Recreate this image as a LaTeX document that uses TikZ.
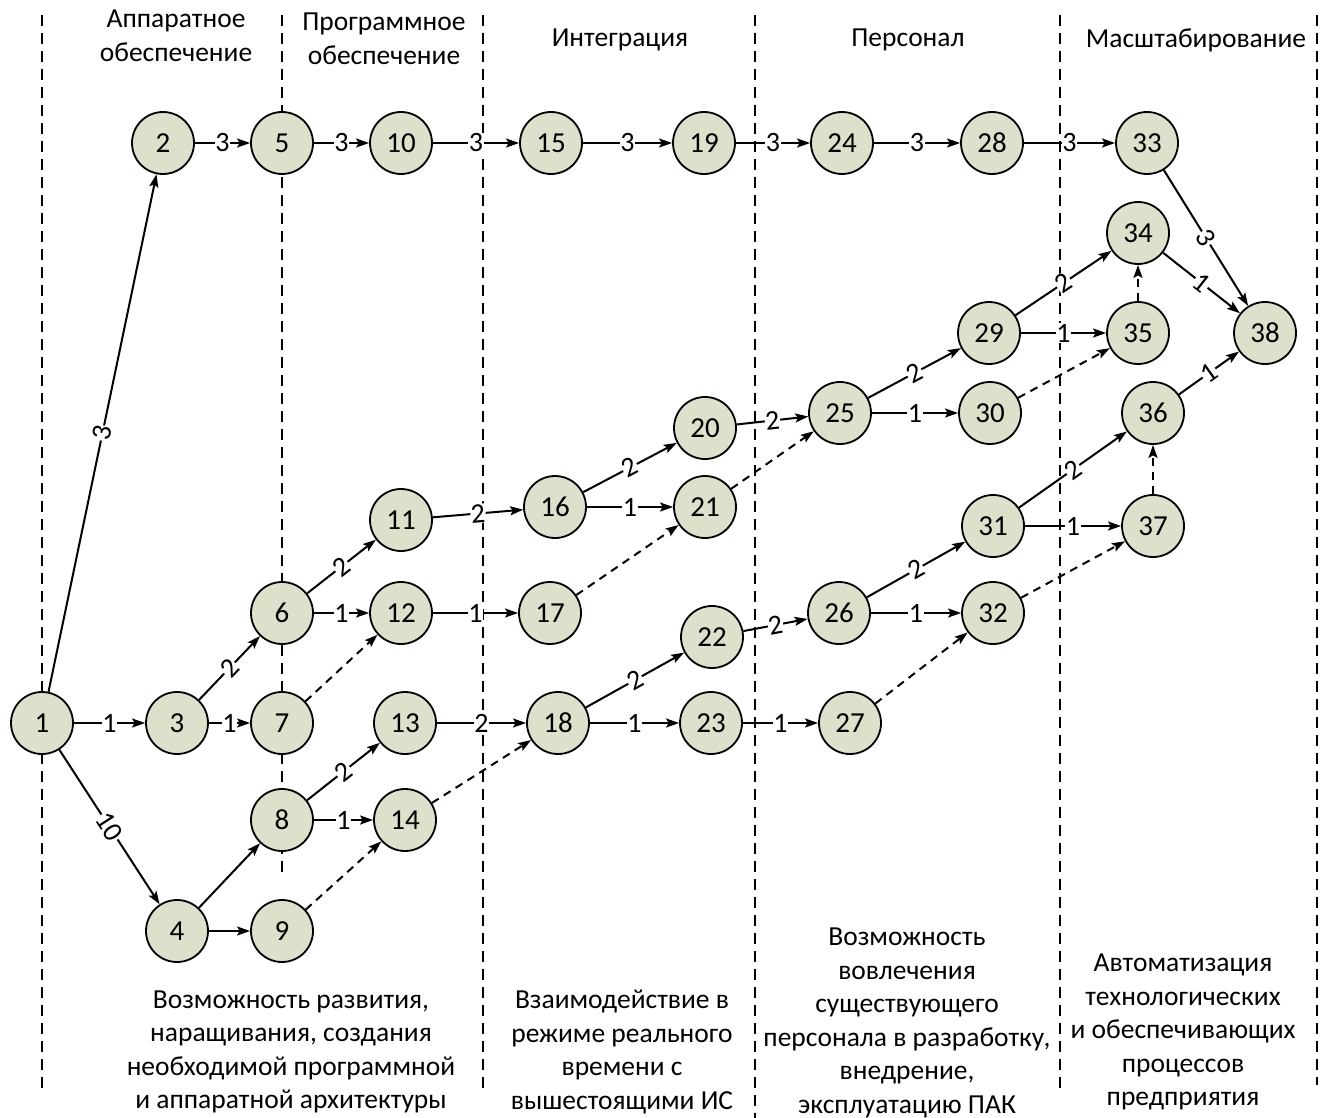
\documentclass[tikz,border=0pt]{standalone}
\usepackage{fontspec}
\setmainfont{Carlito}
\usetikzlibrary{arrows.meta}
\definecolor{nodefill}{RGB}{221,224,203}
\begin{document}
\begin{tikzpicture}[x=1pt,y=-1pt,
  ev/.style={circle,draw,line width=1.8pt,fill=nodefill,minimum size=62pt,inner sep=0pt,font=\fontsize{29}{29}\selectfont},
  act/.style={line width=2pt,-{Stealth[length=13pt,width=9pt,inset=2.5pt]}},
  dummy/.style={act,dash pattern=on 8pt off 6pt},
  w/.style={fill=white,inner sep=0.5pt,font=\fontsize{28}{28}\selectfont,sloped},
  sep/.style={line width=1.3pt,dash pattern=on 11pt off 7pt},
  txt/.style={align=center,font=\fontsize{27.5}{33.5}\selectfont}
]
\useasboundingbox[fill=white] (0,0) rectangle (1330,1118);

% stage separators
\draw[sep] (42,15) -- (42,1090);
\draw[sep] (282,15) -- (282,872);
\draw[sep] (483,15) -- (483,1095);
\draw[sep] (755,15) -- (755,1118);
\draw[sep] (1060,15) -- (1060,1090);
\draw[sep] (1317,15) -- (1317,1085);

% stage titles
\node[txt] (h1) at (176,36) {Аппаратное\\обеспечение};
\node[txt] (h2) at (384,39) {Программное\\обеспечение};
\node[txt] (h3) at (620,40) {Интеграция};
\node[txt] (h4) at (908,40) {Персонал};
\node[txt] (h5) at (1196,40) {Масштабирование};

% events
\node[ev] (n1) at (42,723) {1};
\node[ev] (n2) at (163,143) {2};
\node[ev] (n3) at (177,723) {3};
\node[ev] (n4) at (177,931) {4};
\node[ev] (n5) at (282,143) {5};
\node[ev] (n6) at (282,613) {6};
\node[ev] (n7) at (282,723) {7};
\node[ev] (n8) at (282,820) {8};
\node[ev] (n9) at (282,931) {9};
\node[ev] (n10) at (401,143) {10};
\node[ev] (n11) at (401,520) {11};
\node[ev] (n12) at (401,613) {12};
\node[ev] (n13) at (405,723) {13};
\node[ev] (n14) at (405,820) {14};
\node[ev] (n15) at (551,143) {15};
\node[ev] (n16) at (555,507) {16};
\node[ev] (n17) at (550,613) {17};
\node[ev] (n18) at (558,723) {18};
\node[ev] (n19) at (704,143) {19};
\node[ev] (n20) at (705,428) {20};
\node[ev] (n21) at (705,507) {21};
\node[ev] (n22) at (712,637) {22};
\node[ev] (n23) at (711,723) {23};
\node[ev] (n24) at (842,143) {24};
\node[ev] (n25) at (840,413) {25};
\node[ev] (n26) at (839,613) {26};
\node[ev] (n27) at (850,723) {27};
\node[ev] (n28) at (992,143) {28};
\node[ev] (n29) at (989,333) {29};
\node[ev] (n30) at (990,413) {30};
\node[ev] (n31) at (993,526) {31};
\node[ev] (n32) at (993,613) {32};
\node[ev] (n33) at (1147,143) {33};
\node[ev] (n34) at (1138,233) {34};
\node[ev] (n35) at (1138,333) {35};
\node[ev] (n36) at (1153,413) {36};
\node[ev] (n37) at (1153,526) {37};
\node[ev] (n38) at (1265,333) {38};

% works
\draw[act] (n1) -- node[w]{3} (n2);
\draw[act] (n1) -- node[w]{1} (n3);
\draw[act] (n1) -- node[w]{10} (n4);
\draw[act] (n2) -- node[w]{3} (n5);
\draw[act] (n5) -- node[w]{3} (n10);
\draw[act] (n10) -- node[w]{3} (n15);
\draw[act] (n15) -- node[w]{3} (n19);
\draw[act] (n19) -- node[w]{3} (n24);
\draw[act] (n24) -- node[w]{3} (n28);
\draw[act] (n28) -- node[w]{3} (n33);
\draw[act] (n33) -- node[w]{3} (n38);
\draw[act] (n3) -- node[w]{2} (n6);
\draw[act] (n3) -- node[w]{1} (n7);
\draw[act] (n4) -- (n8);
\draw[act] (n4) -- (n9);
\draw[act] (n6) -- node[w]{2} (n11);
\draw[act] (n6) -- node[w]{1} (n12);
\draw[act] (n8) -- node[w]{2} (n13);
\draw[act] (n8) -- node[w]{1} (n14);
\draw[act] (n11) -- node[w]{2} (n16);
\draw[act] (n12) -- node[w]{1} (n17);
\draw[act] (n13) -- node[w]{2} (n18);
\draw[act] (n16) -- node[w]{2} (n20);
\draw[act] (n16) -- node[w]{1} (n21);
\draw[act] (n18) -- node[w]{2} (n22);
\draw[act] (n18) -- node[w]{1} (n23);
\draw[act] (n20) -- node[w]{2} (n25);
\draw[act] (n22) -- node[w]{2} (n26);
\draw[act] (n23) -- node[w]{1} (n27);
\draw[act] (n25) -- node[w]{2} (n29);
\draw[act] (n25) -- node[w]{1} (n30);
\draw[act] (n26) -- node[w]{2} (n31);
\draw[act] (n26) -- node[w]{1} (n32);
\draw[act] (n29) -- node[w]{2} (n34);
\draw[act] (n29) -- node[w]{1} (n35);
\draw[act] (n31) -- node[w]{2} (n36);
\draw[act] (n31) -- node[w]{1} (n37);
\draw[act] (n34) -- node[w]{1} (n38);
\draw[act] (n36) -- node[w]{1} (n38);

% dummy works
\draw[dummy] (n7) -- (n12);
\draw[dummy] (n9) -- (n14);
\draw[dummy] (n14) -- (n18);
\draw[dummy] (n17) -- (n21);
\draw[dummy] (n21) -- (n25);
\draw[dummy] (n27) -- (n32);
\draw[dummy] (n30) -- (n35);
\draw[dummy] (n35) -- (n34);
\draw[dummy] (n32) -- (n37);
\draw[dummy] (n37) -- (n36);

% stage outcomes
\node[txt] (b1) at (291,1052) {Возможность развития,\\наращивания, создания\\необходимой программной\\и аппаратной архитектуры};
\node[txt] (b2) at (622,1052) {Взаимодействие в\\режиме реального\\времени с\\вышестоящими ИС};
\node[txt] (b3) at (907,1023) {Возможность\\вовлечения\\существующего\\персонала в разработку,\\внедрение,\\эксплуатацию ПАК};
\node[txt] (b4) at (1183,1032) {Автоматизация\\технологических\\и обеспечивающих\\процессов\\предприятия};
\end{tikzpicture}
\end{document}
